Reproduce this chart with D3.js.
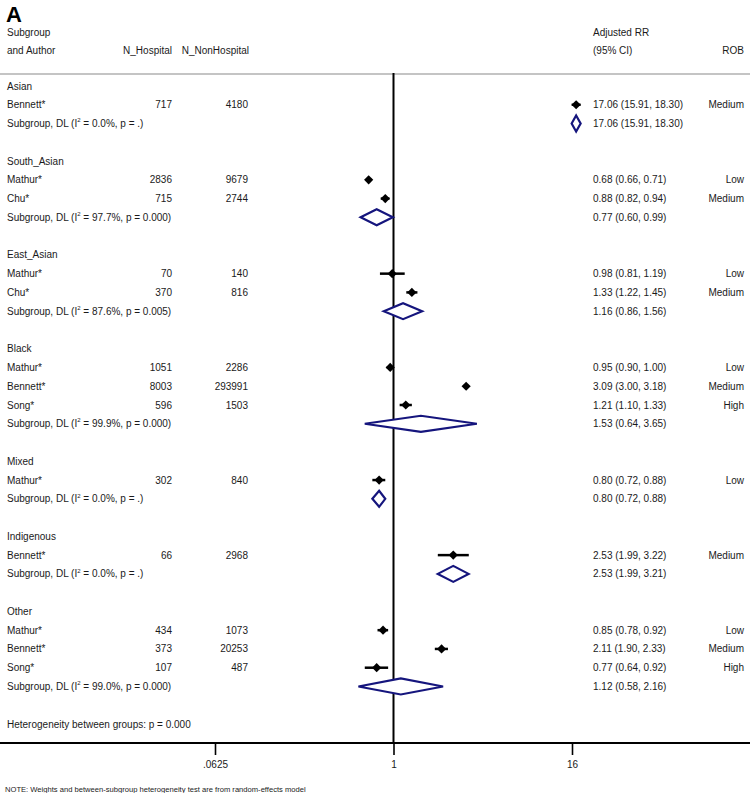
<!DOCTYPE html>
<html>
<head>
<meta charset="utf-8">
<script src="https://cdn.jsdelivr.net/npm/d3@7"></script>
<style>
  html, body { margin: 0; padding: 0; background: #fff; }
  svg { display: block; font-family: "Liberation Sans", Arial, sans-serif; }
</style>
</head>
<body>
<svg id="chart" width="750" height="793"></svg>
<script>
// ---------- data ----------
const groups = ["Asian", "South_Asian", "East_Asian", "Black", "Mixed", "Indigenous", "Other"];

const studyGroup  = ["Asian", "South_Asian", "South_Asian", "East_Asian", "East_Asian", "Black", "Black", "Black", "Mixed", "Indigenous", "Other", "Other", "Other"];
const studyAuthor = ["Bennett*", "Mathur*", "Chu*", "Mathur*", "Chu*", "Mathur*", "Bennett*", "Song*", "Mathur*", "Bennett*", "Mathur*", "Bennett*", "Song*"];
const nHospital    = [717, 2836, 715, 70, 370, 1051, 8003, 596, 302, 66, 434, 373, 107];
const nNonHospital = [4180, 9679, 2744, 140, 816, 2286, 293991, 1503, 840, 2968, 1073, 20253, 487];
const studyRR = [17.06, 0.68, 0.88, 0.98, 1.33, 0.95, 3.09, 1.21, 0.80, 2.53, 0.85, 2.11, 0.77];
const studyLo = [15.91, 0.66, 0.82, 0.81, 1.22, 0.90, 3.00, 1.10, 0.72, 1.99, 0.78, 1.90, 0.64];
const studyHi = [18.30, 0.71, 0.94, 1.19, 1.45, 1.00, 3.18, 1.33, 0.88, 3.22, 0.92, 2.33, 0.92];
const studyROB = ["Medium", "Low", "Medium", "Low", "Medium", "Low", "Medium", "High", "Low", "Medium", "Low", "Medium", "High"];

const subRR = [17.06, 0.77, 1.16, 1.53, 0.80, 2.53, 1.12];
const subLo = [15.91, 0.60, 0.86, 0.64, 0.72, 1.99, 0.58];
const subHi = [18.30, 0.99, 1.56, 3.65, 0.88, 3.21, 2.16];
const subI2 = ["0.0", "97.7", "87.6", "99.9", "0.0", "0.0", "99.0"];
const subP  = [".", "0.000", "0.005", "0.000", ".", ".", "0.000"];

const hetText = "Heterogeneity between groups: p = 0.000";
const tickValues = [0.0625, 1, 16];
const tickLabels = [".0625", "1", "16"];
const noteText = "NOTE: Weights and between-subgroup heterogeneity test are from random-effects model";

// ---------- layout ----------
const svg = d3.select("#chart");
const W = 750;
const textColor = "#1a1a1a";
const navy = "#15157d";
const fs = 10;

// build rows
const rows = [];
groups.forEach((g, gi) => {
  rows.push({ type: "group", label: g });
  studyGroup.forEach((sg, i) => {
    if (sg === g) rows.push({ type: "study", i });
  });
  rows.push({ type: "sub", gi });
  rows.push({ type: "blank" });
});
rows.push({ type: "het" });

const y = d3.scaleLinear().domain([0, rows.length - 1]).range([86, 724]);
const x = d3.scaleLog().base(2).domain([1 / 16, 16]).range([215, 572]);

const colN1 = 172, colN2 = 248, colCI = 593, colROB = 744, colLeft = 7;

// panel label
svg.append("text").attr("x", 6).attr("y", 22).attr("font-size", 22).attr("font-weight", "bold")
  .attr("fill", "#000").text("A");

// headers
function txt(xp, yp, s, anchor, size) {
  return svg.append("text").attr("x", xp).attr("y", yp).attr("dy", "0.35em")
    .attr("font-size", size || fs).attr("fill", textColor)
    .attr("text-anchor", anchor || "start").text(s);
}
txt(colLeft, 32, "Subgroup");
txt(colLeft, 50, "and Author");
txt(colN1, 50, "N_Hospital", "end");
txt(colN2 + 1, 50, "N_NonHospital", "end");
txt(colCI, 32, "Adjusted RR");
txt(colCI, 50, "(95% CI)");
txt(colROB, 50, "ROB", "end");

// header rule
svg.append("line").attr("x1", 0).attr("x2", W).attr("y1", 74).attr("y2", 74)
  .attr("stroke", "#c4c4c4").attr("stroke-width", 2);

// null line
svg.append("line").attr("x1", x(1)).attr("x2", x(1)).attr("y1", 73).attr("y2", 743)
  .attr("stroke", "#000").attr("stroke-width", 2);

// rows
const fmt = d3.format(".2f");
rows.forEach((r, ri) => {
  const yy = y(ri);
  if (r.type === "group") {
    txt(colLeft, yy, r.label);
  } else if (r.type === "study") {
    const i = r.i;
    txt(colLeft, yy, studyAuthor[i]);
    txt(colN1, yy, nHospital[i], "end");
    txt(colN2, yy, nNonHospital[i], "end");
    txt(colCI, yy, `${fmt(studyRR[i])} (${fmt(studyLo[i])}, ${fmt(studyHi[i])})`);
    txt(colROB, yy, studyROB[i], "end");
    svg.append("line").attr("x1", x(studyLo[i])).attr("x2", x(studyHi[i]))
      .attr("y1", yy).attr("y2", yy).attr("stroke", "#000").attr("stroke-width", 2.5);
    const cx = x(studyRR[i]), h = 4.6;
    svg.append("path")
      .attr("d", `M${cx - h},${yy} L${cx},${yy - h} L${cx + h},${yy} L${cx},${yy + h} Z`)
      .attr("fill", "#000");
  } else if (r.type === "sub") {
    const gi = r.gi;
    const t = svg.append("text").attr("x", colLeft).attr("y", yy).attr("dy", "0.35em")
      .attr("font-size", fs).attr("fill", textColor);
    t.append("tspan").text("Subgroup, DL (I");
    t.append("tspan").attr("font-size", 6).attr("dy", "-0.8em").text("2");
    t.append("tspan").attr("dy", "0.48em").text(` = ${subI2[gi]}%, p = ${subP[gi]})`);
    txt(colCI, yy, `${fmt(subRR[gi])} (${fmt(subLo[gi])}, ${fmt(subHi[gi])})`);
    const x0 = x(subLo[gi]), x1 = x(subHi[gi]), xm = x(subRR[gi]), h = 8;
    svg.append("path")
      .attr("d", `M${x0},${yy} L${xm},${yy - h} L${x1},${yy} L${xm},${yy + h} Z`)
      .attr("fill", "#fff").attr("stroke", navy).attr("stroke-width", 2.2)
      .attr("stroke-linejoin", "miter");
  } else if (r.type === "het") {
    txt(colLeft, yy, hetText);
  }
});

// x axis
const axisY = 743;
svg.append("line").attr("x1", 0).attr("x2", W).attr("y1", axisY).attr("y2", axisY)
  .attr("stroke", "#000").attr("stroke-width", 1.8);
const axis = d3.axisBottom(x).tickValues(tickValues)
  .tickFormat((d, i) => tickLabels[i]).tickSize(12).tickPadding(6);
const ag = svg.append("g").attr("transform", `translate(0,${axisY})`).call(axis);
ag.select(".domain").remove();
ag.selectAll(".tick line").attr("stroke", "#000").attr("stroke-width", 1.6);
ag.selectAll(".tick text").attr("font-size", fs).attr("fill", textColor)
  .attr("font-family", "Liberation Sans, Arial, sans-serif");

// note
svg.append("text").attr("x", 5).attr("y", 789).attr("dy", "0.35em")
  .attr("font-size", 7.6).attr("fill", textColor).text(noteText);
</script>
</body>
</html>
